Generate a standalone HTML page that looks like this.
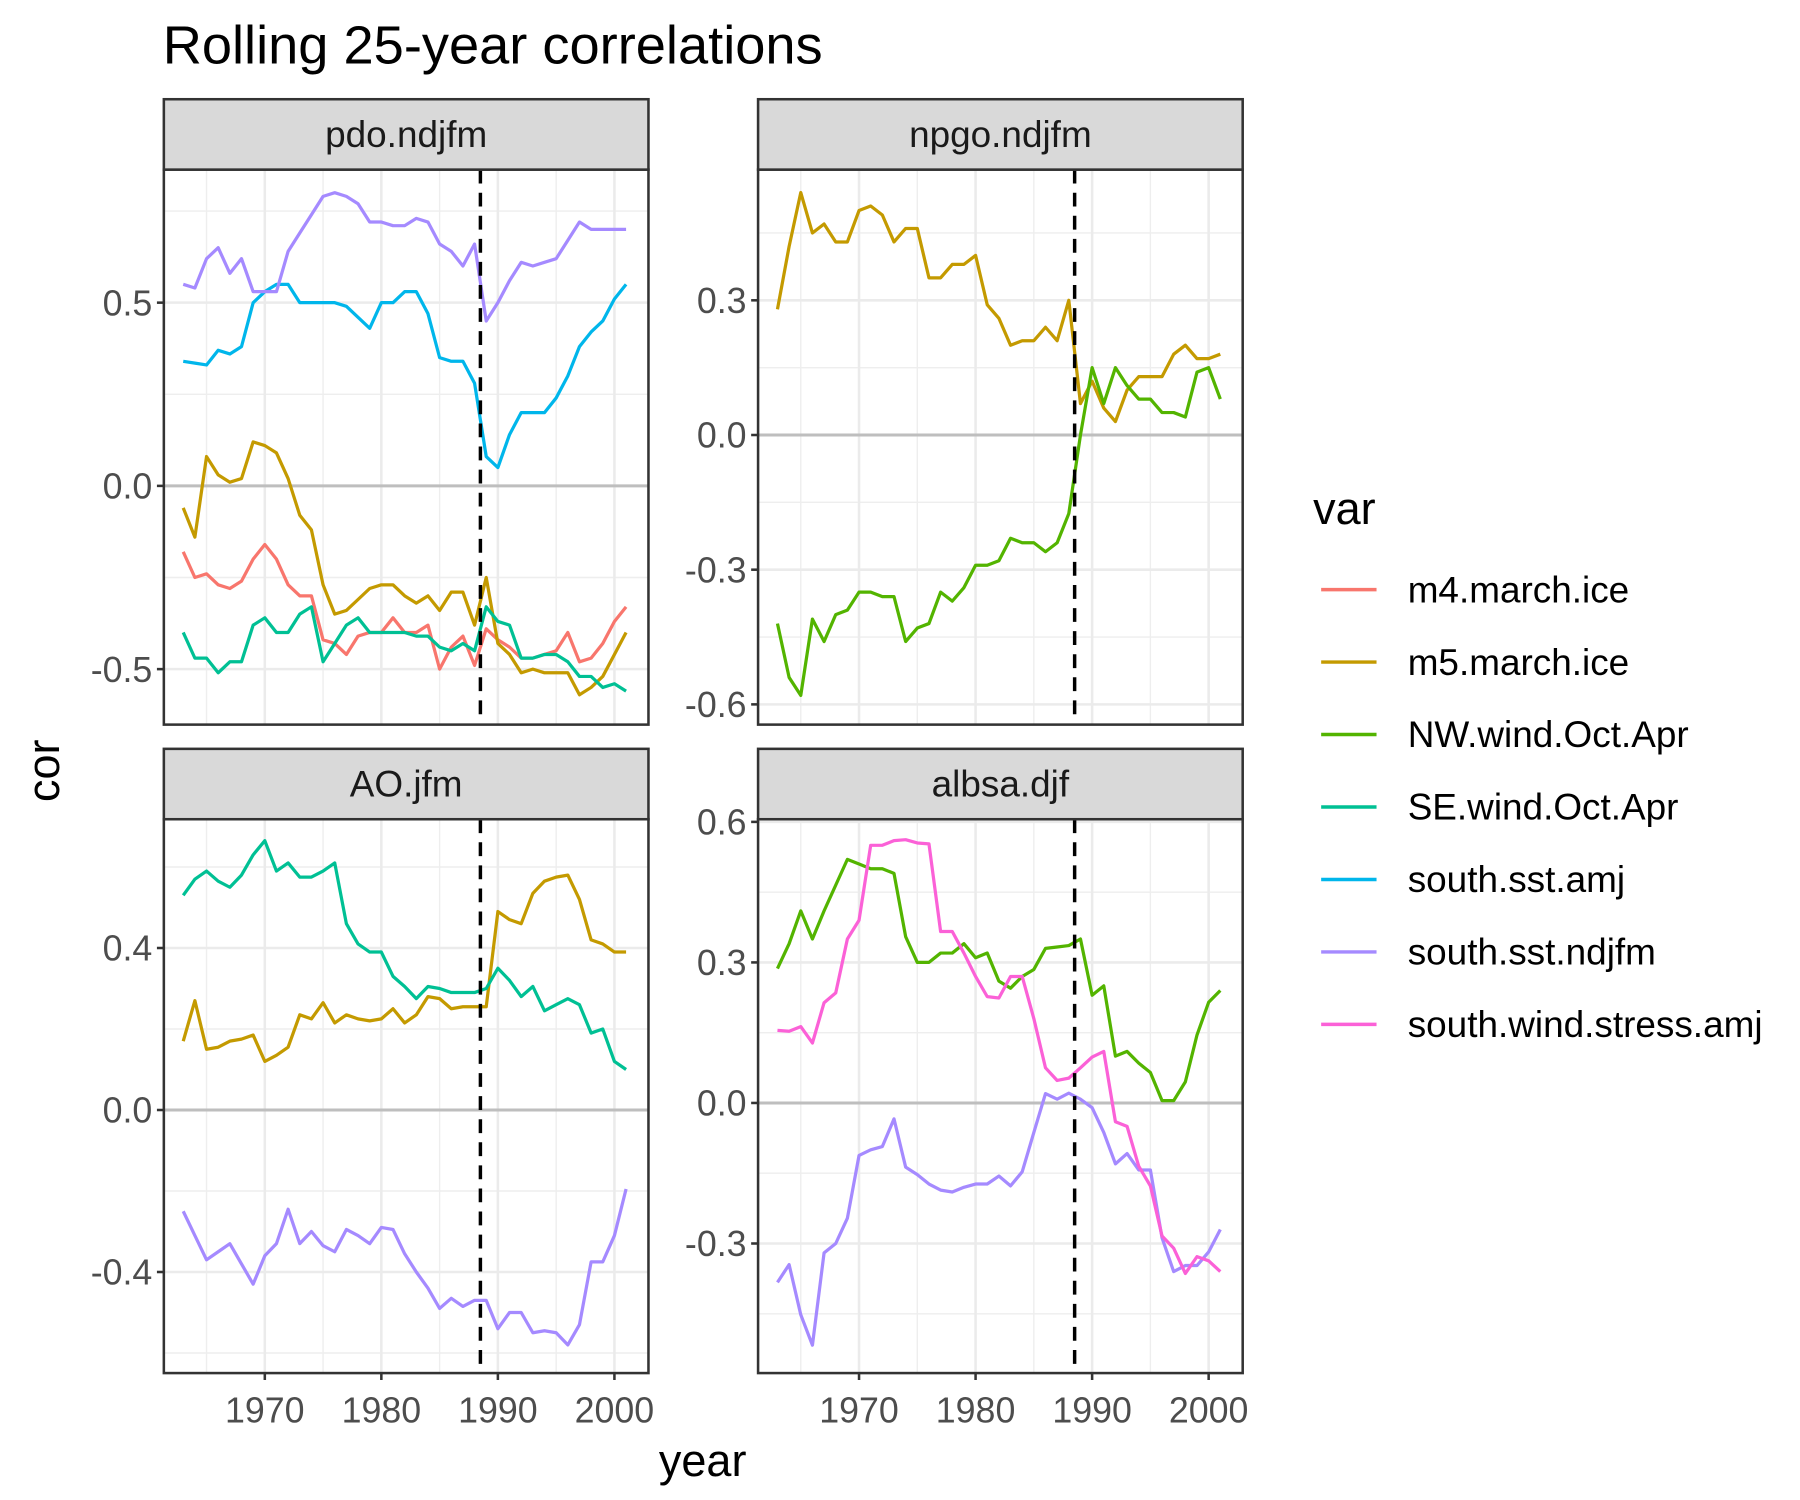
<!DOCTYPE html>
<html><head><meta charset="utf-8">
<style>
html,body{margin:0;padding:0;background:#fff;}
svg{display:block;font-family:"Liberation Sans",Arial,sans-serif;}
</style></head>
<body>
<svg id="chart" width="1800" height="1500" viewBox="0 0 1560 1300" xmlns="http://www.w3.org/2000/svg">
<rect x="0" y="0" width="1560" height="1300" fill="#fff"/>
<text x="141" y="55" font-size="47" fill="#000">Rolling 25-year correlations</text>
<text x="609" y="1279" font-size="39" text-anchor="middle" fill="#000">year</text>
<text transform="translate(51,668) rotate(-90)" font-size="39" text-anchor="middle" fill="#000">cor</text>
<g id="panels"></g>
<g id="legend"></g>
</svg>
<script>
const years = [];
for (let y = 1963; y <= 2001; y++) years.push(y);
const seriesNames = ["m4.march.ice","m5.march.ice","NW.wind.Oct.Apr","SE.wind.Oct.Apr","south.sst.amj","south.sst.ndjfm","south.wind.stress.amj"];
const seriesColors = ["#F8766D","#C49A00","#53B400","#00C094","#00B6EB","#A58AFF","#FB61D7"];
const panelNames = ["pdo.ndjfm","npgo.ndjfm","AO.jfm","albsa.djf"];
const breakYear = 1988.5;

// pdo.ndjfm
const pdoM4 = [-0.18,-0.25,-0.24,-0.27,-0.28,-0.26,-0.20,-0.16,-0.20,-0.27,-0.30,-0.30,-0.42,-0.43,-0.46,-0.41,-0.40,-0.40,-0.36,-0.40,-0.40,-0.38,-0.50,-0.44,-0.41,-0.49,-0.39,-0.42,-0.44,-0.47,-0.47,-0.46,-0.45,-0.40,-0.48,-0.47,-0.43,-0.37,-0.33];
const pdoM5 = [-0.06,-0.14,0.08,0.03,0.01,0.02,0.12,0.11,0.09,0.02,-0.08,-0.12,-0.27,-0.35,-0.34,-0.31,-0.28,-0.27,-0.27,-0.30,-0.32,-0.30,-0.34,-0.29,-0.29,-0.38,-0.25,-0.43,-0.46,-0.51,-0.50,-0.51,-0.51,-0.51,-0.57,-0.55,-0.52,-0.46,-0.40];
const pdoSE = [-0.40,-0.47,-0.47,-0.51,-0.48,-0.48,-0.38,-0.36,-0.40,-0.40,-0.35,-0.33,-0.48,-0.43,-0.38,-0.36,-0.40,-0.40,-0.40,-0.40,-0.41,-0.41,-0.44,-0.45,-0.43,-0.45,-0.33,-0.37,-0.38,-0.47,-0.47,-0.46,-0.46,-0.48,-0.52,-0.52,-0.55,-0.54,-0.56];
const pdoAmj = [0.34,0.335,0.33,0.37,0.36,0.38,0.50,0.53,0.55,0.55,0.50,0.50,0.50,0.50,0.49,0.46,0.43,0.50,0.50,0.53,0.53,0.47,0.35,0.34,0.34,0.28,0.08,0.05,0.14,0.20,0.20,0.20,0.24,0.30,0.38,0.42,0.45,0.51,0.55];
const pdoNdjfm = [0.55,0.54,0.62,0.65,0.58,0.62,0.53,0.53,0.53,0.64,0.69,0.74,0.79,0.80,0.79,0.77,0.72,0.72,0.71,0.71,0.73,0.72,0.66,0.64,0.60,0.66,0.45,0.50,0.56,0.61,0.60,0.61,0.62,0.67,0.72,0.70,0.70,0.70,0.70];
// npgo.ndjfm
const npgoM5 = [0.28,0.42,0.54,0.45,0.47,0.43,0.43,0.50,0.51,0.49,0.43,0.46,0.46,0.35,0.35,0.38,0.38,0.40,0.29,0.26,0.20,0.21,0.21,0.24,0.21,0.30,0.07,0.12,0.06,0.03,0.10,0.13,0.13,0.13,0.18,0.20,0.17,0.17,0.18];
const npgoNW = [-0.42,-0.54,-0.58,-0.41,-0.46,-0.40,-0.39,-0.35,-0.35,-0.36,-0.36,-0.46,-0.43,-0.42,-0.35,-0.37,-0.34,-0.29,-0.29,-0.28,-0.23,-0.24,-0.24,-0.26,-0.24,-0.175,0.0,0.15,0.07,0.15,0.11,0.08,0.08,0.05,0.05,0.04,0.14,0.15,0.08];
// AO.jfm
const aoM5 = [0.17,0.27,0.15,0.155,0.17,0.175,0.185,0.12,0.135,0.155,0.235,0.225,0.265,0.215,0.235,0.225,0.22,0.225,0.25,0.215,0.235,0.28,0.275,0.25,0.255,0.255,0.255,0.49,0.47,0.46,0.535,0.565,0.575,0.58,0.52,0.42,0.41,0.39,0.39];
const aoSE = [0.53,0.57,0.59,0.565,0.55,0.58,0.63,0.665,0.59,0.61,0.575,0.575,0.59,0.61,0.46,0.41,0.39,0.39,0.33,0.305,0.275,0.305,0.30,0.29,0.29,0.29,0.30,0.35,0.32,0.28,0.305,0.245,0.26,0.275,0.26,0.19,0.20,0.12,0.10];
const aoNdjfm = [-0.25,-0.31,-0.37,-0.35,-0.33,-0.38,-0.43,-0.36,-0.33,-0.245,-0.33,-0.30,-0.335,-0.35,-0.295,-0.31,-0.33,-0.29,-0.295,-0.355,-0.40,-0.44,-0.49,-0.465,-0.485,-0.47,-0.47,-0.54,-0.50,-0.50,-0.55,-0.545,-0.55,-0.58,-0.53,-0.375,-0.375,-0.31,-0.195];
// albsa.djf
const albsaNW = [0.287,0.34,0.41,0.35,0.41,0.465,0.52,0.51,0.50,0.50,0.49,0.355,0.30,0.30,0.32,0.32,0.34,0.31,0.32,0.26,0.245,0.27,0.285,0.33,0.333,0.336,0.35,0.23,0.25,0.10,0.11,0.085,0.065,0.005,0.005,0.045,0.145,0.215,0.24];
const albsaNdjfm = [-0.383,-0.345,-0.452,-0.517,-0.32,-0.30,-0.246,-0.112,-0.10,-0.093,-0.034,-0.137,-0.153,-0.173,-0.186,-0.19,-0.18,-0.173,-0.173,-0.156,-0.177,-0.147,-0.063,0.02,0.008,0.021,0.008,-0.01,-0.063,-0.13,-0.108,-0.143,-0.143,-0.288,-0.36,-0.347,-0.347,-0.318,-0.27];
const albsaWind = [0.155,0.153,0.163,0.128,0.214,0.235,0.35,0.39,0.55,0.55,0.56,0.562,0.555,0.553,0.366,0.366,0.32,0.27,0.227,0.224,0.27,0.27,0.18,0.075,0.048,0.053,0.075,0.098,0.11,-0.04,-0.05,-0.135,-0.177,-0.284,-0.31,-0.364,-0.328,-0.337,-0.36];

const pdoTicks = [-0.5,0,0.5];
const npgoTicks = [-0.6,-0.3,0,0.3];
const aoTicks = [-0.4,0,0.4];
const albsaTicks = [-0.3,0,0.3,0.6];
const xTicks = [1970,1980,1990,2000];
const xTickLabels = ["1970","1980","1990","2000"];

const NS = "http://www.w3.org/2000/svg";
function mk(tag, attrs, parent){ const e=document.createElementNS(NS,tag); for(const k in attrs) e.setAttribute(k,attrs[k]); parent.appendChild(e); return e; }
function fmt(v){ return v.toFixed(1).replace("-0.0","0.0"); }

const panels = [
  {name:panelNames[0], x0:142, y0:147, x1:562, y1:628, sy:86, zeroY:421.1, ppu:317.6, yr1970:229.5, ticks:pdoTicks, minor:[-0.75,-0.25,0.25,0.75], showX:false,
   series:[[0,pdoM4],[1,pdoM5],[3,pdoSE],[4,pdoAmj],[5,pdoNdjfm]]},
  {name:panelNames[1], x0:657, y0:147, x1:1077, y1:628, sy:86, zeroY:377.0, ppu:389.1, yr1970:744.5, ticks:npgoTicks, minor:[-0.45,-0.15,0.15,0.45], showX:false,
   series:[[1,npgoM5],[2,npgoNW]]},
  {name:panelNames[2], x0:142, y0:710, x1:562, y1:1190, sy:649, zeroY:962.0, ppu:351, yr1970:229.5, ticks:aoTicks, minor:[-0.6,-0.2,0.2,0.6], showX:true,
   series:[[1,aoM5],[3,aoSE],[5,aoNdjfm]]},
  {name:panelNames[3], x0:657, y0:710, x1:1077, y1:1190, sy:649, zeroY:955.9, ppu:406, yr1970:744.5, ticks:albsaTicks, minor:[-0.45,-0.15,0.15,0.45], showX:true,
   series:[[2,albsaNW],[5,albsaNdjfm],[6,albsaWind]]}
];

const root = document.getElementById("panels");
panels.forEach((p, pi) => {
  const xs = yr => p.yr1970 + (yr - 1970) * 10.1;
  const ys = v => p.zeroY - v * p.ppu;
  const g = mk("g", {}, root);
  
  
  mk("rect", {x:p.x0, y:p.y0, width:p.x1-p.x0, height:p.y1-p.y0, fill:"#fff"}, g);
  p.minor.forEach(v => { const y=ys(v); if (y>p.y0 && y<p.y1) mk("line",{x1:p.x0,x2:p.x1,y1:y,y2:y,stroke:"#EEEEEE","stroke-width":1.2}, g); });
  [1965,1975,1985,1995].forEach(yr => { const x=xs(yr); mk("line",{x1:x,x2:x,y1:p.y0,y2:p.y1,stroke:"#EEEEEE","stroke-width":1.2}, g); });
  p.ticks.forEach(v => { const y=ys(v); mk("line",{x1:p.x0,x2:p.x1,y1:y,y2:y,stroke:"#EBEBEB","stroke-width":2.2}, g); });
  xTicks.forEach(yr => { const x=xs(yr); mk("line",{x1:x,x2:x,y1:p.y0,y2:p.y1,stroke:"#EBEBEB","stroke-width":2.2}, g); });
  const zl = mk("line",{x1:p.x0,x2:p.x1,y1:ys(0),y2:ys(0),stroke:"#BEBEBE","stroke-width":2.6}, g);
  
  
  p.series.forEach(([si, vals]) => {
    const d = vals.map((v,i) => (i?"L":"M") + xs(years[i]).toFixed(2) + "," + ys(v).toFixed(2)).join("");
    const path = mk("path",{d:d,fill:"none",stroke:seriesColors[si],"stroke-width":2.8,"stroke-linejoin":"round"}, g);
    
    
  });
  const bx = xs(breakYear);
  const bl = mk("line",{x1:bx,x2:bx,y1:p.y0,y2:p.y1,stroke:"#000","stroke-width":3,"stroke-dasharray":"12,8"}, g);
  
  
  mk("rect",{x:p.x0,y:p.y0,width:p.x1-p.x0,height:p.y1-p.y0,fill:"none",stroke:"#333","stroke-width":2.2}, g);
  const st = mk("rect",{x:p.x0,y:p.sy,width:p.x1-p.x0,height:p.y0-p.sy,fill:"#D9D9D9",stroke:"#333","stroke-width":2.2}, g);
  
  
  const stt = mk("text",{x:(p.x0+p.x1)/2,y:p.sy+(p.y0-p.sy)/2+11,"font-size":32,"text-anchor":"middle",fill:"#1A1A1A"}, g);
  stt.textContent = p.name;
  
  
  p.ticks.forEach(v => {
    const y = ys(v);
    mk("line",{x1:p.x0-6,x2:p.x0,y1:y,y2:y,stroke:"#333","stroke-width":2.2}, g);
    const t = mk("text",{x:p.x0-10,y:y+11,"font-size":31,"text-anchor":"end",fill:"#4D4D4D"}, g);
    t.textContent = fmt(v);
    
    
  });
  if (p.showX) {
    xTicks.forEach((yr, i) => {
      const x = xs(yr);
      mk("line",{x1:x,x2:x,y1:p.y1,y2:p.y1+6,stroke:"#333","stroke-width":2.2}, g);
      const t = mk("text",{x:x,y:p.y1+43,"font-size":31,"text-anchor":"middle",fill:"#4D4D4D"}, g);
      t.textContent = xTickLabels[i];
      
      
    });
  }
});

const lg = document.getElementById("legend");
const lt = mk("text",{x:1138,y:454,"font-size":39,fill:"#000"}, lg);
lt.textContent = "var";


seriesNames.forEach((n, i) => {
  const cy = 511 + i * 62.8;
  const eg = mk("g",{}, lg);
  
  
  mk("line",{x1:1145,x2:1193,y1:cy,y2:cy,stroke:seriesColors[i],"stroke-width":3}, eg);
  const t = mk("text",{x:1220,y:cy+11,"font-size":32,fill:"#000"}, eg);
  t.textContent = n;
});
</script>
</body></html>
